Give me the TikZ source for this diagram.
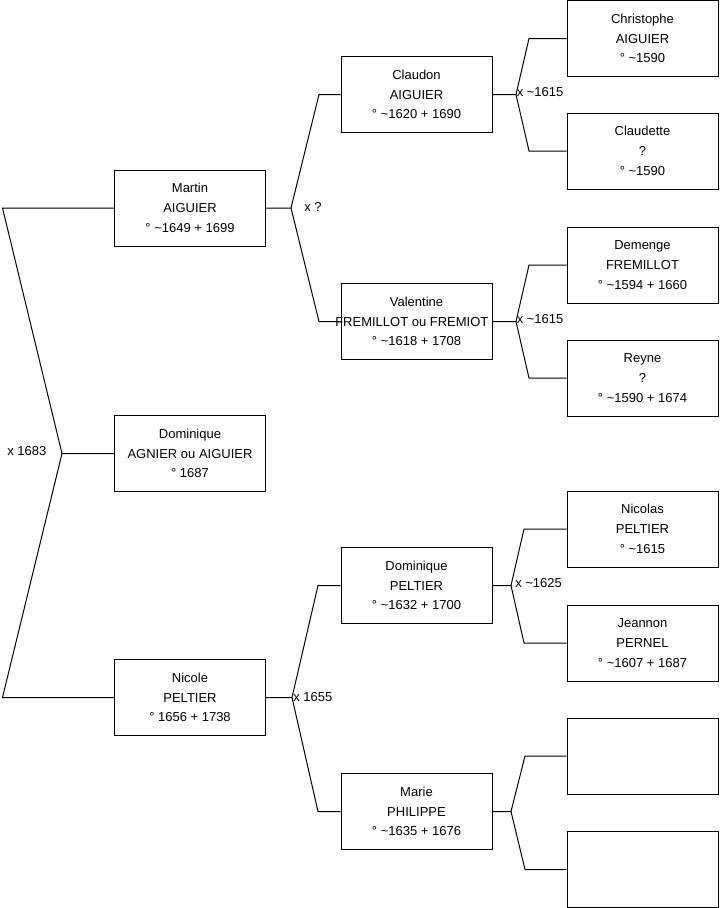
\documentclass[tikz,border=0pt]{standalone}
\usepackage{fontspec}
\setmainfont{Liberation Sans}
\begin{document}
\begin{tikzpicture}[x=0.75pt,y=-0.75pt,
  person/.style={draw=black,line width=0.75pt,fill=white,minimum width=113.25pt,minimum height=57pt,inner sep=0pt,align=center,font=\fontsize{9.75}{14.8}\selectfont},
  link/.style={draw=black,line width=0.75pt},
  union/.style={anchor=west,inner sep=0pt,font=\fontsize{9.75}{11}\selectfont}]
\useasboundingbox (0,0) rectangle (719,908);
% column 1
\node[person] (martin) at (190,208) {Martin\\AIGUIER\\° \textasciitilde1649 + 1699};
\node[person] (dom) at (190,453.5) {Dominique\\AGNIER ou AIGUIER\\° 1687};
\node[person] (nicole) at (190,697.5) {Nicole\\PELTIER\\° 1656 + 1738};
% column 2
\node[person] (claudon) at (416.5,94.5) {Claudon\\AIGUIER\\° \textasciitilde1620 + 1690};
\node[person] (valentine) at (416.5,321.5) {Valentine\\\makebox[0pt]{\hspace*{-7pt}FREMILLOT ou FREMIOT}\\° \textasciitilde1618 + 1708};
\node[person] (domp) at (416.5,585.5) {Dominique\\PELTIER\\° \textasciitilde1632 + 1700};
\node[person] (marie) at (416.5,811.5) {Marie\\PHILIPPE\\° \textasciitilde1635 + 1676};
% column 3
\node[person] (christophe) at (642.5,38.5) {Christophe\\AIGUIER\\° \textasciitilde1590};
\node[person] (claudette) at (642.5,151) {Claudette\\?\\° \textasciitilde1590};
\node[person] (demenge) at (642.5,265) {Demenge\\FREMILLOT\\° \textasciitilde1594 + 1660};
\node[person] (reyne) at (642.5,378) {Reyne\\?\\° \textasciitilde1590 + 1674};
\node[person] (nicolas) at (642.5,529) {Nicolas\\PELTIER\\° \textasciitilde1615};
\node[person] (jeannon) at (642.5,643) {Jeannon\\PERNEL\\° \textasciitilde1607 + 1687};
\node[person] (empty1) at (642.5,756) {};
\node[person] (empty2) at (642.5,869.5) {};
% fork coordinates
\coordinate (j0) at (62,453.5);
\coordinate (t0a) at (2.5,208);
\coordinate (t0b) at (2.5,697.5);
\coordinate (j1) at (291,208);
\coordinate (t1a) at (319,94.5);
\coordinate (t1b) at (319,321.5);
\coordinate (j2) at (292,697.5);
\coordinate (t2a) at (318,585.5);
\coordinate (t2b) at (318,811.5);
\coordinate (j3) at (516,94.5);
\coordinate (t3a) at (529,38.5);
\coordinate (t3b) at (529,151);
\coordinate (j4) at (516,321.5);
\coordinate (t4a) at (529,265);
\coordinate (t4b) at (529,378);
\coordinate (j5) at (511,585.5);
\coordinate (t5a) at (524,529);
\coordinate (t5b) at (524,643);
\coordinate (j6) at (511,811.5);
\coordinate (t6a) at (525,756);
\coordinate (t6b) at (525,869.5);
% connectors
\draw[link] (dom.west) -- (j0) -- (t0a) -- (martin.west);
\draw[link] (j0) -- (t0b) -- (nicole.west);
\draw[link] (martin.east) -- (j1) -- (t1a) -- (claudon.west);
\draw[link] (j1) -- (t1b) -- (valentine.west);
\draw[link] (nicole.east) -- (j2) -- (t2a) -- (domp.west);
\draw[link] (j2) -- (t2b) -- (marie.west);
\draw[link] (claudon.east) -- (j3) -- (t3a) -- (christophe.west);
\draw[link] (j3) -- (t3b) -- (claudette.west);
\draw[link] (valentine.east) -- (j4) -- (t4a) -- (demenge.west);
\draw[link] (j4) -- (t4b) -- (reyne.west);
\draw[link] (domp.east) -- (j5) -- (t5a) -- (nicolas.west);
\draw[link] (j5) -- (t5b) -- (jeannon.west);
\draw[link] (marie.east) -- (j6) -- (t6a) -- (empty1.west);
\draw[link] (j6) -- (t6b) -- (empty2.west);
% union labels
\node[union] (u0) at (7,451.5) {x 1683};
\node[union] (u1) at (304,207) {x ?};
\node[union] (u2) at (293,697.5) {x 1655};
\node[union] (u3) at (516.5,92.5) {x \textasciitilde1615};
\node[union] (u4) at (516.5,319.5) {x \textasciitilde1615};
\node[union] (u5) at (515,583.5) {x \textasciitilde1625};
\end{tikzpicture}
\end{document}
